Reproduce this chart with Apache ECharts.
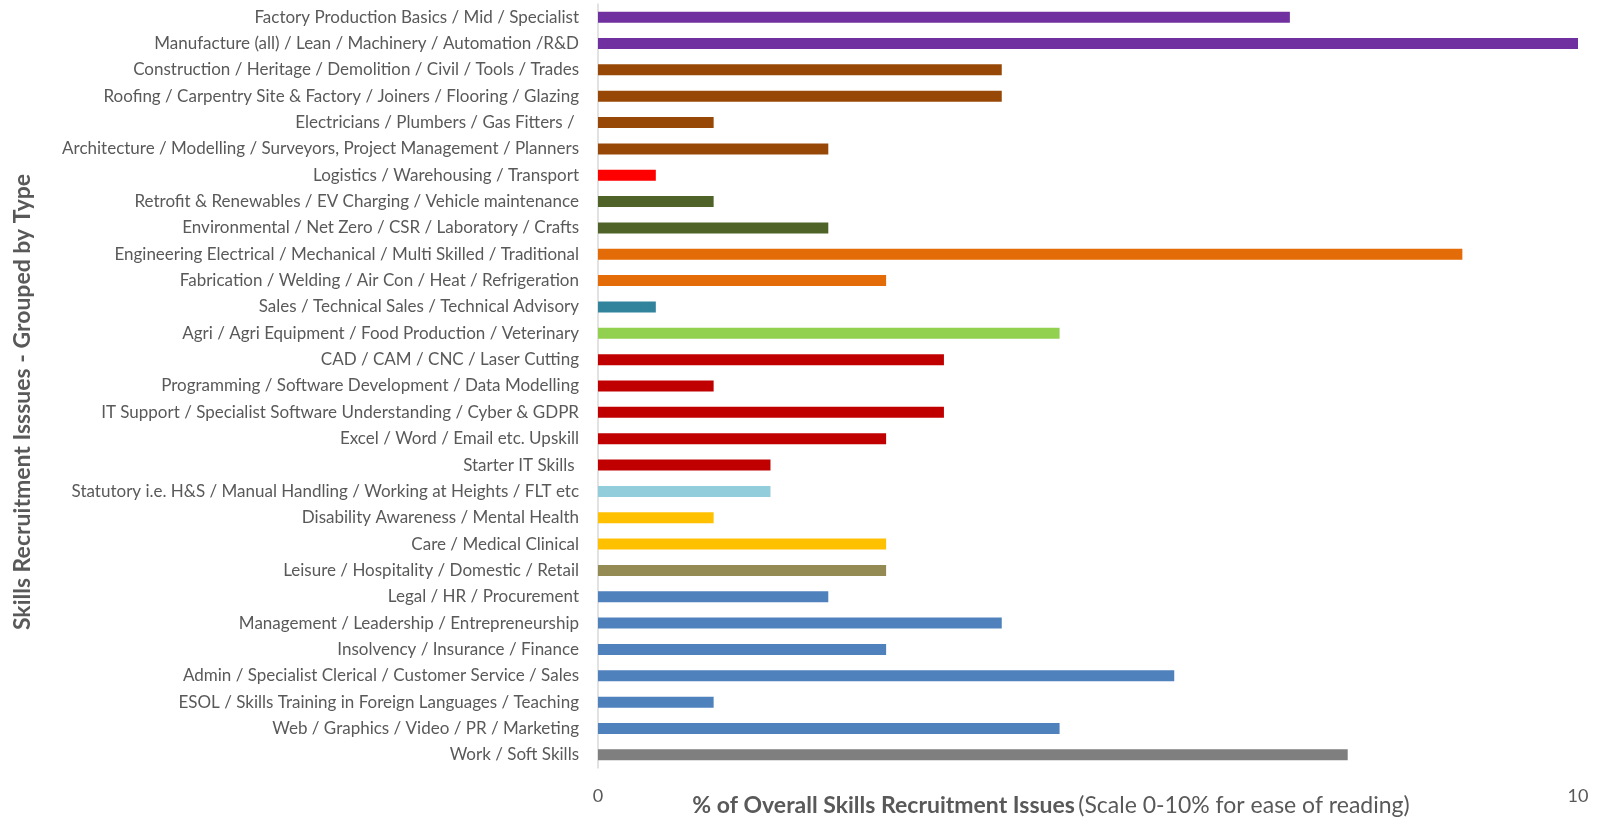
<!DOCTYPE html>
<html>
<head>
<meta charset="utf-8">
<script src="https://cdn.jsdelivr.net/npm/echarts@6/dist/echarts.min.js"></script>
<style>
html,body{margin:0;padding:0;background:#fff;}
#chart{width:1599px;height:817px;}
</style>
</head>
<body>
<div id="chart"></div>
<script>
const categories = [
  "Factory Production Basics / Mid / Specialist",
  "Manufacture (all) / Lean / Machinery / Automation /R&D",
  "Construction / Heritage / Demolition / Civil / Tools / Trades",
  "Roofing / Carpentry Site & Factory / Joiners / Flooring / Glazing",
  "Electricians / Plumbers / Gas Fitters / ",
  "Architecture / Modelling / Surveyors, Project Management / Planners",
  "Logistics / Warehousing / Transport",
  "Retrofit & Renewables / EV Charging / Vehicle maintenance",
  "Environmental / Net Zero / CSR / Laboratory / Crafts",
  "Engineering Electrical / Mechanical / Multi Skilled / Traditional",
  "Fabrication / Welding / Air Con / Heat / Refrigeration",
  "Sales / Technical Sales / Technical Advisory",
  "Agri / Agri Equipment / Food Production / Veterinary",
  "CAD / CAM / CNC / Laser Cutting",
  "Programming / Software Development / Data Modelling",
  "IT Support / Specialist Software Understanding / Cyber & GDPR",
  "Excel / Word / Email etc. Upskill",
  "Starter IT Skills ",
  "Statutory i.e. H&S / Manual Handling / Working at Heights / FLT etc",
  "Disability Awareness / Mental Health",
  "Care / Medical Clinical",
  "Leisure / Hospitality / Domestic / Retail",
  "Legal / HR / Procurement",
  "Management / Leadership / Entrepreneurship",
  "Insolvency / Insurance / Finance",
  "Admin / Specialist Clerical / Customer Service / Sales",
  "ESOL / Skills Training in Foreign Languages / Teaching",
  "Web / Graphics / Video / PR / Marketing",
  "Work / Soft Skills"
];
const values = [
  7.06, 10.00, 4.12, 4.12, 1.18, 2.35, 0.59, 1.18, 2.35, 8.82,
  2.94, 0.59, 4.71, 3.53, 1.18, 3.53, 2.94, 1.76, 1.76, 1.18,
  2.94, 2.94, 2.35, 4.12, 2.94, 5.88, 1.18, 4.71, 7.65
];
const barColors = [
  "#7030A0", "#7030A0", "#974806", "#974806", "#974806", "#974806",
  "#FF0000", "#4F6228", "#4F6228", "#E36C09", "#E36C09", "#31849B",
  "#92D050", "#C00000", "#C00000", "#C00000", "#C00000", "#C00000",
  "#92CDDC", "#FFC000", "#FFC000", "#948A54", "#4F81BD", "#4F81BD",
  "#4F81BD", "#4F81BD", "#4F81BD", "#4F81BD", "#7F7F7F"
];
const xTicks = [0, 10];
const xTitleBold = "% of Overall Skills Recruitment Issues";
const xTitleNormal = "(Scale 0-10% for ease of reading)";
const yTitle = "Skills Recruitment Isssues - Grouped by Type";

const FONT = "Lato";
const TEXT = "#595959";

const chart = echarts.init(document.getElementById('chart'), null, {renderer: 'canvas'});
chart.setOption({
  animation: false,
  backgroundColor: '#ffffff',
  grid: {left: 598, right: 21, top: 4, bottom: 49, containLabel: false},
  xAxis: {
    type: 'value',
    min: xTicks[0],
    max: xTicks[xTicks.length - 1],
    interval: 10,
    axisLine: {show: false},
    axisTick: {show: false},
    splitLine: {show: false},
    axisLabel: {color: TEXT, fontFamily: FONT, fontSize: 18, margin: 19}
  },
  yAxis: {
    type: 'category',
    data: categories,
    inverse: true,
    axisLine: {show: true, lineStyle: {color: '#D9D9D9', width: 1.5}},
    axisTick: {show: false},
    axisLabel: {color: TEXT, fontFamily: FONT, fontSize: 17, margin: 19, interval: 0}
  },
  series: [{
    type: 'bar',
    data: values.map((v, i) => ({value: v, itemStyle: {color: barColors[i]}})),
    barWidth: 11
  }],
  graphic: [
    {
      type: 'text',
      x: 1051, y: 806,
      style: {
        text: '{b|' + xTitleBold + '} {n|' + xTitleNormal + '}',
        align: 'center', verticalAlign: 'middle',
        rich: {
          b: {fontFamily: FONT, fontSize: 23, fontWeight: 'bold', fill: TEXT, color: TEXT},
          n: {fontFamily: FONT, fontSize: 23, fontWeight: 'normal', fill: TEXT, color: TEXT}
        }
      }
    },
    {
      type: 'text',
      x: 22.5, y: 402,
      rotation: Math.PI / 2,
      style: {
        text: yTitle,
        align: 'center', verticalAlign: 'middle',
        fontFamily: FONT, fontSize: 23, fontWeight: 'bold', fill: TEXT
      }
    }
  ]
});
</script>
</body>
</html>
